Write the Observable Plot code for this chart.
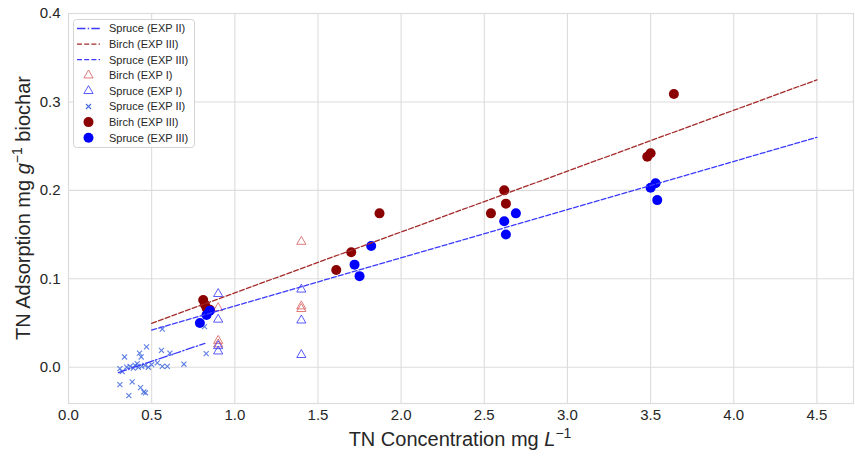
<!DOCTYPE html>
<html><head><meta charset="utf-8">
<script src="https://cdn.jsdelivr.net/npm/d3@7"></script>
<script src="https://cdn.jsdelivr.net/npm/@observablehq/plot@0.6"></script>
<style>
body{margin:0;background:#fff;font-family:"Liberation Sans",Arial,sans-serif;}
#wrap{position:relative;width:855px;height:456px;overflow:hidden;}
#legend{position:absolute;left:73px;top:19px;}
</style></head><body><div id="wrap"></div>
<script>
// Axis ticks
const xTicks = [0, 0.5, 1.0, 1.5, 2.0, 2.5, 3.0, 3.5, 4.0, 4.5];
const yTicks = [0.0, 0.1, 0.2, 0.3, 0.4];

// Birch (EXP I) — open triangles
const birchI_x = [0.9, 0.9, 0.9, 1.4, 1.4, 1.4];
const birchI_y = [0.067, 0.030, 0.026, 0.142, 0.069, 0.066];

// Spruce (EXP I) — open triangles
const spruceI_x = [0.9, 0.9, 0.9, 0.9, 1.4, 1.4, 1.4];
const spruceI_y = [0.083, 0.054, 0.024, 0.018, 0.088, 0.053, 0.014];

// Spruce (EXP II) — x markers
const spruceII_x = [0.564, 0.818, 0.469, 0.427, 0.437, 0.337, 0.559, 0.610, 0.828, 0.413,
                    0.534, 0.564, 0.594, 0.694, 0.309, 0.323, 0.350, 0.370, 0.390, 0.400,
                    0.420, 0.440, 0.460, 0.480, 0.500, 0.309, 0.383, 0.433, 0.453, 0.463, 0.363];
const spruceII_y = [0.043, 0.046, 0.023, 0.016, 0.0116, 0.0116, 0.019, 0.016, 0.0155, 0.004,
                    0.005, 0.001, 0.001, 0.0034, -0.0015, -0.005, 0.000, 0.001, -0.001, 0.002,
                    0.000, 0.001, 0.002, 0.000, 0.003, -0.0196, -0.0166, -0.023, -0.028, -0.029, -0.032];

// Birch (EXP III) — filled circles
const birchIII_x = [0.81, 0.82, 0.83, 0.85, 1.61, 1.70, 1.87, 2.54, 2.62, 2.63, 3.48, 3.50, 3.64];
const birchIII_y = [0.076, 0.071, 0.067, 0.065, 0.110, 0.130, 0.174, 0.174, 0.200, 0.185, 0.238, 0.242, 0.309];

// Spruce (EXP III) — filled circles
const spruceIII_x = [0.79, 0.83, 0.85, 1.72, 1.75, 1.82, 2.62, 2.63, 2.69, 3.50, 3.53, 3.54];
const spruceIII_y = [0.050, 0.059, 0.064, 0.116, 0.103, 0.137, 0.165, 0.150, 0.174, 0.203, 0.208, 0.189];

// Fitted lines (endpoints)
const fitSpruceII_x = [0.30, 0.82];
const fitSpruceII_y = [-0.006, 0.027];
const fitBirchIII_x = [0.5, 4.5];
const fitBirchIII_y = [0.0497, 0.325];
const fitSpruceIII_x = [0.5, 4.5];
const fitSpruceIII_y = [0.042, 0.260];

const rows = (xs, ys) => xs.map((x, i) => ({x, y: ys[i]}));

const C = {
  birchI: "#d96565",
  spruceI: "#3d3dff",
  spruceII: "#4169e1",
  birchIII: "#8b0000",
  spruceIII: "#0000ff",
  birchLine: "#a52a2a",
  spruceLine: "#3b3bff"
};

const grid = "#dcdcdc";
const chart = Plot.plot({
  width: 855, height: 456,
  marginLeft: 68, marginRight: 2, marginTop: 13, marginBottom: 53,
  x: {domain: [0, 4.72]},
  y: {domain: [-0.041, 0.4]},
  style: {fontFamily: "'Liberation Sans', Arial, sans-serif", fontSize: "15px", color: "#262626", background: "white"},
  marks: [
    Plot.gridX(xTicks, {stroke: grid, strokeOpacity: 1, strokeWidth: 1.1}),
    Plot.gridY(yTicks, {stroke: grid, strokeOpacity: 1, strokeWidth: 1.1}),
    Plot.frame({stroke: grid, strokeWidth: 1.2}),
    Plot.axisX(xTicks, {tickSize: 0, tickPadding: 6, tickFormat: d3.format(".1f"), label: null, fill: "#262626"}),
    Plot.axisY(yTicks, {tickSize: 0, tickPadding: 8, tickFormat: d3.format(".1f"), label: null, fill: "#262626"}),
    Plot.dot(rows(birchI_x, birchI_y), {x: "x", y: "y", symbol: "triangle", r: 3.4, stroke: C.birchI, fill: "none", strokeWidth: 1, strokeOpacity: 0.85}),
    Plot.dot(rows(spruceI_x, spruceI_y), {x: "x", y: "y", symbol: "triangle", r: 3.4, stroke: C.spruceI, fill: "none", strokeWidth: 1, strokeOpacity: 0.85}),
    Plot.dot(rows(spruceII_x, spruceII_y), {x: "x", y: "y", symbol: "times", r: 2.4, stroke: C.spruceII, strokeWidth: 1.1, strokeOpacity: 0.85}),
    Plot.dot(rows(birchIII_x, birchIII_y), {x: "x", y: "y", r: 5, fill: C.birchIII, stroke: "none"}),
    Plot.dot(rows(spruceIII_x, spruceIII_y), {x: "x", y: "y", r: 5, fill: C.spruceIII, stroke: "none"}),
    Plot.line(rows(fitSpruceII_x, fitSpruceII_y), {x: "x", y: "y", stroke: C.spruceLine, strokeWidth: 1.3, strokeDasharray: "8.5,2.2,1.4,2.2"}),
    Plot.line(rows(fitBirchIII_x, fitBirchIII_y), {x: "x", y: "y", stroke: C.birchLine, strokeWidth: 1.3, strokeDasharray: "5,2.2"}),
    Plot.line(rows(fitSpruceIII_x, fitSpruceIII_y), {x: "x", y: "y", stroke: C.spruceLine, strokeWidth: 1.3, strokeDasharray: "5,2.2"})
  ]
});
document.getElementById("wrap").appendChild(chart);

// Axis labels with italic letter and superscript
const svg = d3.select(chart);
const xl = svg.append("text")
  .attr("x", 460).attr("y", 446).attr("text-anchor", "middle")
  .attr("font-size", 20).attr("fill", "#262626");
xl.append("tspan").text("TN Concentration mg ");
xl.append("tspan").attr("font-style", "italic").text("L");
xl.append("tspan").attr("font-size", 14).attr("dy", -8).text("\u22121");

const yl = svg.append("text")
  .attr("transform", "translate(30,208) rotate(-90)").attr("text-anchor", "middle")
  .attr("font-size", 20).attr("fill", "#262626");
yl.append("tspan").text("TN Adsorption mg ");
yl.append("tspan").attr("font-style", "italic").text("g");
yl.append("tspan").attr("font-size", 14).attr("dy", -8).text("\u22121");
yl.append("tspan").attr("dy", 8).text(" biochar");

// Legend
const legendItems = [
  {label: "Spruce (EXP II)", kind: "line", color: C.spruceLine, dash: "8.5,2.2,1.4,2.2"},
  {label: "Birch (EXP III)", kind: "line", color: C.birchLine, dash: "5,2.2"},
  {label: "Spruce (EXP III)", kind: "line", color: C.spruceLine, dash: "5,2.2"},
  {label: "Birch (EXP I)", kind: "triangle", color: C.birchI},
  {label: "Spruce (EXP I)", kind: "triangle", color: C.spruceI},
  {label: "Spruce (EXP II)", kind: "times", color: C.spruceII},
  {label: "Birch (EXP III)", kind: "circle", color: C.birchIII},
  {label: "Spruce (EXP III)", kind: "circle", color: C.spruceIII}
];
const lg = d3.select("#wrap").append("svg").attr("id", "legend")
  .attr("width", 123).attr("height", 130);
lg.append("rect").attr("x", 0.5).attr("y", 0.5).attr("width", 121).attr("height", 128)
  .attr("rx", 3).attr("fill", "rgba(255,255,255,0.85)").attr("stroke", "#d4d4d4");
legendItems.forEach((d, i) => {
  const cy = 9.5 + i * 15.6;
  const g = lg.append("g");
  if (d.kind === "line") {
    g.append("line").attr("x1", 4).attr("x2", 27).attr("y1", cy).attr("y2", cy)
      .attr("stroke", d.color).attr("stroke-width", 1.3).attr("stroke-dasharray", d.dash);
  } else if (d.kind === "triangle") {
    g.append("path").attr("transform", `translate(15.5,${cy})`)
      .attr("d", d3.symbol(d3.symbolTriangle, Math.PI * 3.4 * 3.4)())
      .attr("fill", "none").attr("stroke", d.color).attr("stroke-opacity", 0.85);
  } else if (d.kind === "times") {
    g.append("path").attr("transform", `translate(15.5,${cy})`)
      .attr("d", d3.symbol(d3.symbolTimes, Math.PI * 2.4 * 2.4)())
      .attr("fill", "none").attr("stroke", d.color).attr("stroke-width", 1.1);
  } else {
    g.append("circle").attr("cx", 15.5).attr("cy", cy).attr("r", 5).attr("fill", d.color);
  }
  g.append("text").attr("x", 36).attr("y", cy).attr("dy", "0.35em")
    .attr("font-size", 11).attr("fill", "#262626").text(d.label);
});
</script>
</body></html>
